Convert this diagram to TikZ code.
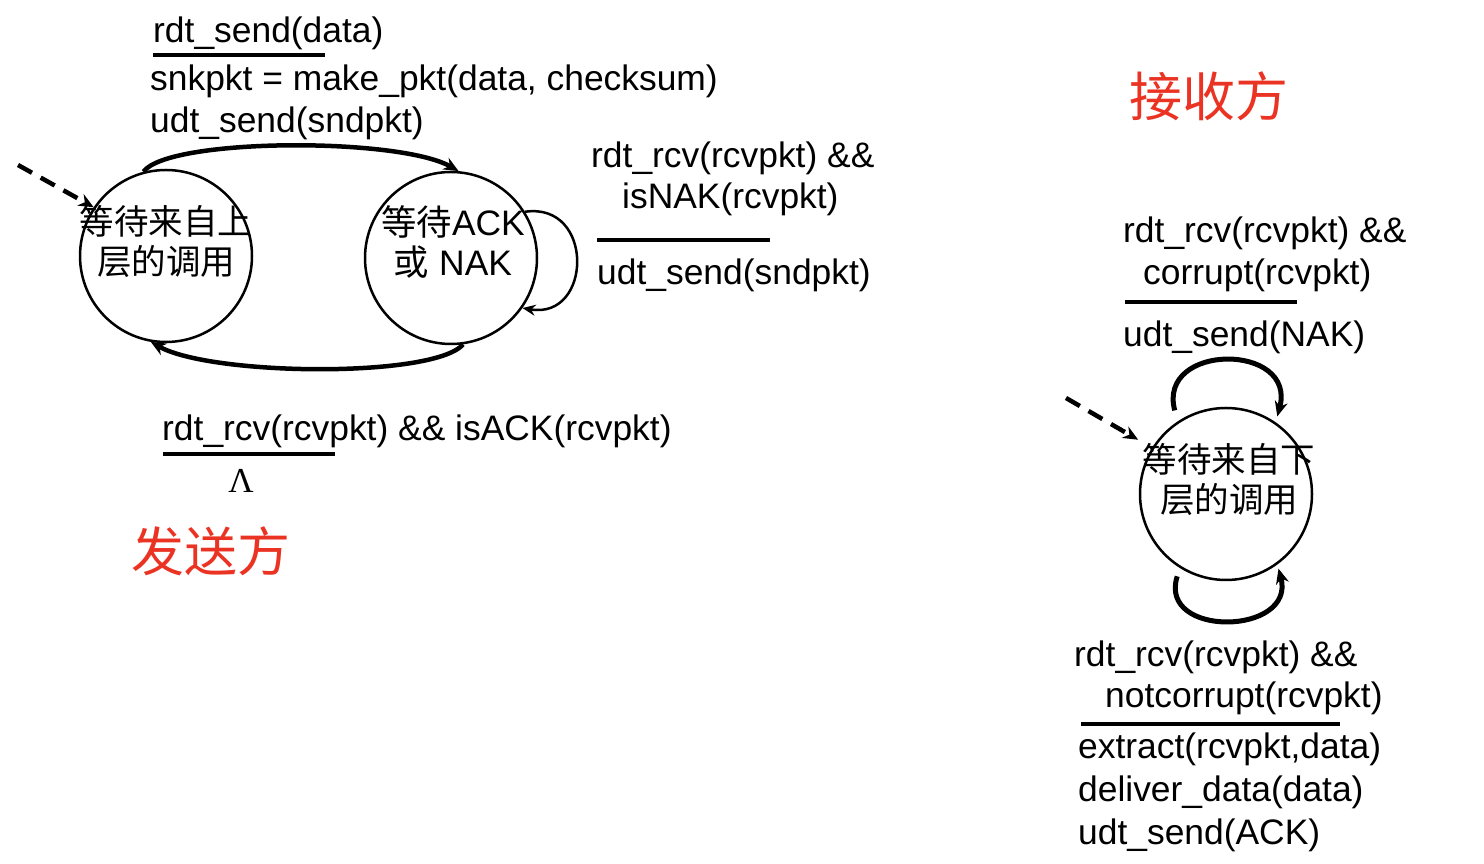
\documentclass[tikz,border=0pt]{standalone}
\usepackage{xcolor}
\usepackage{fontspec}
\usepackage{tikz}
\usetikzlibrary{arrows.meta}
\setmainfont{Liberation Sans}
\newfontfamily\cjk{Noto Sans CJK SC}
\newfontfamily\greekfont{Liberation Serif}
\definecolor{siderred}{RGB}{234, 51, 35}

\begin{document}
\begin{tikzpicture}[x=1pt, y=1pt, font=\fontsize{35.4}{40}\selectfont,
        txt/.style={anchor=west, inner sep=0pt},
        state/.style={draw, circle, line width=2.5pt, minimum size=172pt, inner sep=0pt},
        fsm/.style={line width=4.5pt, -{Stealth[length=15pt, width=13pt]}},
        bar/.style={line width=4pt}]
        \useasboundingbox (0,0) rectangle (1484,864);

        % sender
        \node (up) [state] at (166,608) {};
        \node (upname) [align=center, inner sep=0pt, font=\fontsize{34.5}{40}\cjk] at (166,623) {等待来自上\\层的调用};
        \node (ackwait) [state] at (451,606) {};
        \node (ackname) [align=center, inner sep=0pt] at (453,622) {{\cjk 等待}ACK\\{\cjk 或} NAK};

        \coordinate (sstart) at (18,699);
        \draw[line width=4.5pt, dashed, dash pattern=on 16pt off 10pt, -{Stealth[length=15pt, width=13pt]}] (sstart) -- (up.146);
        \draw[fsm] (up.105) .. controls +(25,34) and +(-60,34) .. (ackwait.85);
        \draw[fsm] (ackwait.-82) .. controls +(-30,-34) and +(60,-34) .. (up.-100);
        \draw[line width=2.5pt, -{Stealth[length=13pt, width=11pt]}] (ackwait.32) .. controls +(70,10) and +(70,-12) .. (ackwait.-35);

        \node (sendev) [txt] at (153,831) {rdt\_send(data)};
        \draw[bar] (153,809) -- (325,809);
        \node (sendac1) [txt] at (150,783) {snkpkt = make\_pkt(data, checksum)};
        \node (sendac2) [txt] at (150,741) {udt\_send(sndpkt)};

        \node (nakev1) [txt] at (591,706) {rdt\_rcv(rcvpkt) \&\&};
        \node (nakev2) [txt] at (622,665) {isNAK(rcvpkt)};
        \draw[bar] (597,624) -- (770,624);
        \node (nakac) [txt] at (597,589) {udt\_send(sndpkt)};

        \node (ackev) [txt] at (162,433) {rdt\_rcv(rcvpkt) \&\& isACK(rcvpkt)};
        \draw[bar] (163,410) -- (335,410);
        \node (ackac) [inner sep=0pt, font=\fontsize{35}{40}\greekfont] at (241,383) {Λ};

        \node (sender) [txt, text=siderred, font=\fontsize{53}{60}\cjk] at (131,313) {发送方};

        % receiver
        \node (receiver) [txt, text=siderred, font=\fontsize{53}{60}\cjk] at (1129,768) {接收方};

        \node (down) [state] at (1226,370) {};
        \node (downname) [align=center, inner sep=0pt, font=\fontsize{34.5}{40}\cjk] at (1229,385) {等待来自下\\层的调用};

        \coordinate (rstart) at (1066,466);
        \draw[line width=4.5pt, dashed, dash pattern=on 16pt off 10pt, shorten >=16pt, -{Stealth[length=15pt, width=13pt]}] (rstart) -- (down.148);
        \draw[line width=5pt, -{Stealth[length=15pt, width=13pt]}] ([yshift=13pt]down.126) .. controls +(-18,68) and +(20,74) .. ([yshift=7pt]down.54);
        \draw[line width=5pt, -{Stealth[length=15pt, width=13pt]}] ([yshift=-10pt]down.-124) .. controls +(-20,-62) and +(18,-67) .. ([yshift=-5pt]down.-53);

        \node (corev1) [txt] at (1123,631) {rdt\_rcv(rcvpkt) \&\&};
        \node (corev2) [txt] at (1143,589) {corrupt(rcvpkt)};
        \draw[bar] (1125,562) -- (1297,562);
        \node (corac) [txt] at (1123,527) {udt\_send(NAK)};

        \node (okev1) [txt] at (1074,207) {rdt\_rcv(rcvpkt) \&\&};
        \node (okev2) [txt] at (1105,166) {notcorrupt(rcvpkt)};
        \draw[bar] (1081,140) -- (1340,140);
        \node (okac1) [txt] at (1078,115) {extract(rcvpkt,data)};
        \node (okac2) [txt] at (1078,72) {deliver\_data(data)};
        \node (okac3) [txt] at (1078,29) {udt\_send(ACK)};
    \end{tikzpicture}
\end{document}
